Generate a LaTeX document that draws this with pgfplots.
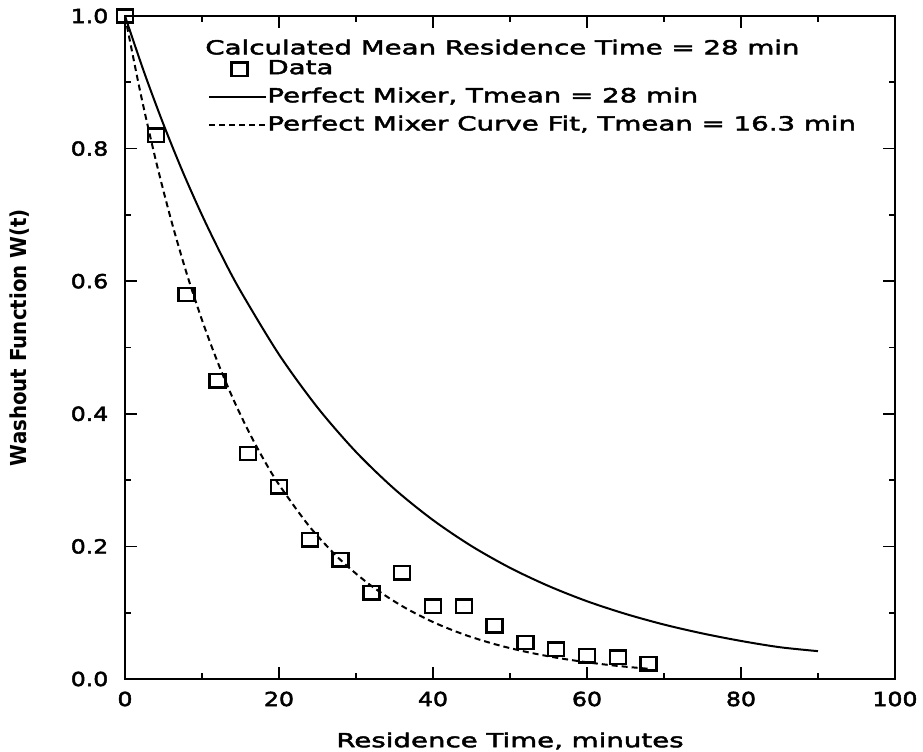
\documentclass[border=0pt]{standalone}
\usepackage{fontspec}
\setmainfont{DejaVu Sans}[FakeStretch=1.43, FakeBold=2.5]
\newfontfamily\tickfont{DejaVu Sans}[FakeStretch=1.22, FakeBold=2.5]
\newfontfamily\ylabfont{DejaVu Sans}[FakeStretch=0.9]
\usepackage{pgfplots}
\pgfplotsset{compat=1.18}
\pgfplotsset{
  legsq/.style={legend image code/.code={\draw[##1] plot coordinates {(22.5bp,0bp)};}},
  legline/.style={legend image code/.code={\draw[##1] (0bp,0bp) -- (42.75bp,0bp);}},
}
\begin{document}
\begin{tikzpicture}
\begin{axis}[
  name=ax,
  scale only axis,
  width=577.5bp, height=497.25bp,
  xmin=0, xmax=100, ymin=0, ymax=1,
  clip=false,
  xtick={0,20,40,60,80,100},
  ytick={0,0.2,0.4,0.6,0.8,1},
  minor x tick num=1, minor y tick num=1,
  tick align=inside,
  major tick length=9bp, minor tick length=4.5bp,
  axis line style={line width=1.5bp},
  tick style={line width=1.3bp, black},
  /pgf/number format/assume math mode=true,
  ticklabel style={font=\tickfont\fontsize{14.5bp}{17bp}\selectfont},
  yticklabel style={/pgf/number format/.cd, fixed, fixed zerofill, precision=1, /tikz/.cd, xshift=-9bp},
  xticklabel style={yshift=-6bp},
  xlabel={Residence Time, minutes},
  xlabel style={at={(rel axis cs:0.5,-0.0935)}, anchor=center, font=\fontsize{14.5bp}{17bp}\selectfont},
  ylabel={Washout Function W(t)},
  ylabel style={at={(rel axis cs:-0.1364,0.515)}, anchor=center, font=\ylabfont\bfseries\fontsize{16.5bp}{19bp}\selectfont},
  legend style={at={(axis cs:10.8,0.934)}, anchor=north west, draw=none, fill=none,
    inner sep=0pt, row sep=7.5bp,
    font=\fontsize{14.5bp}{17bp}\selectfont,
    nodes={inner xsep=0pt, inner ysep=0pt, text height=10.6bp, text depth=3bp}},
  legend cell align=left,
]
\addplot[only marks, mark=square, mark size=5bp, line width=1.8bp,
  mark options={xscale=1.2}, legsq]
  coordinates {
  (0,1.0) (4,0.82) (8,0.58) (12,0.45) (16,0.34) (20,0.29) (24,0.21)
  (28,0.18) (32,0.13) (36,0.16) (40,0.11) (44,0.11) (48,0.08)
  (52,0.055) (56,0.045) (60,0.035) (64,0.033) (68,0.023)
  };
\addlegendentry{Data}
\addplot[line width=1.5bp, smooth, legline]
  coordinates {
  (0,1.0) (2.5,0.9146) (5,0.8365) (7.5,0.7650) (10,0.6997) (12.5,0.6399)
  (15,0.5853) (20,0.4895) (25,0.4095) (30,0.3425) (35,0.2865)
  (40,0.2397) (45,0.2005) (50,0.1677) (55,0.1403) (60,0.1173)
  (65,0.0982) (70,0.0821) (75,0.0687) (80,0.0574) (85,0.0480) (90,0.0420)
  };
\addlegendentry{Perfect Mixer, Tmean = 28 min}
\addplot[line width=1.5bp, smooth, dash pattern=on 4.5bp off 3bp, legline]
  coordinates {
  (0,1.0) (2,0.8845) (4,0.7824) (6,0.6920) (8,0.6121) (10,0.5414)
  (12,0.4789) (14,0.4236) (16,0.3747) (18,0.3314) (20,0.2932)
  (24,0.2294) (28,0.1795) (32,0.1404) (36,0.1099) (40,0.0859)
  (44,0.0672) (48,0.0526) (52,0.0412) (56,0.0322) (60,0.0252)
  (64,0.0197) (68,0.0154)
  };
\addlegendentry{Perfect Mixer Curve Fit, Tmean = 16.3 min}
\node[anchor=west, inner sep=0pt, font=\fontsize{14.5bp}{17bp}\selectfont]
  at (axis cs:10.4,0.953) {Calculated Mean Residence Time = 28 min};
\end{axis}
\pgfresetboundingbox
\path ([xshift=-93.75bp,yshift=-54.75bp]ax.south west) rectangle ([xshift=21bp,yshift=12bp]ax.north east);
\end{tikzpicture}
\end{document}
